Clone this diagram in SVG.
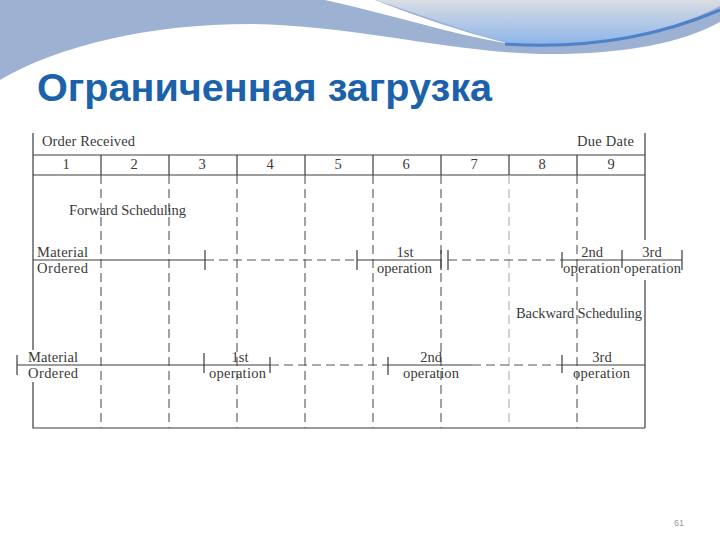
<svg xmlns="http://www.w3.org/2000/svg" width="720" height="540" viewBox="0 0 720 540">
<defs>
<linearGradient id="sky" x1="0" y1="0" x2="0" y2="1">
<stop offset="0" stop-color="#d9dde3"/>
<stop offset="1" stop-color="#8db5ea"/>
</linearGradient>
<style>
.t{font-family:"Liberation Serif","Times New Roman",serif;font-size:14.5px;fill:#3a3a3a}
.c{text-anchor:middle}
.s{stroke:#3c3c3c;stroke-width:1.2;fill:none}
.d{stroke:#555555;stroke-width:1.1;fill:none;stroke-dasharray:9 5}
.dl{stroke:#a5a5a5;stroke-width:1;fill:none;stroke-dasharray:9 5}
</style>
</defs>
<rect width="720" height="540" fill="#ffffff"/>
<g id="header">
<path d="M0,0 H720 V22 C680,44 620,55 540,54 C450,52 350,25 250,24 C150,24 60,45 0,80 Z" fill="#9db2d2"/>
<path d="M325,0 C390,14 450,34 510,44 C455,30 405,12 375,0 Z" fill="#ffffff"/>
<path d="M375,0 C420,14 470,34 515,44 C600,48 670,32 720,6 V0 Z" fill="url(#sky)"/>
<path d="M505,44 C600,50 668,32 720,10" stroke="#4f82c8" stroke-width="3" fill="none"/>
</g>
<text id="title" x="37" y="101" textLength="455" lengthAdjust="spacingAndGlyphs" style="font-family:'Liberation Sans','Noto Sans',Arial,sans-serif;font-weight:bold;font-size:38px;fill:#1b62aa">Ограниченная загрузка</text>
<g id="grid">
<path class="s" d="M33,133 V350 M33,382 V428 H645 M645,133 V240 M645,280 V428 M33,155 H645 M33,175 H645"/>
<path class="s" d="M101,155 V175 M169,155 V175 M237,155 V175 M305,155 V175 M373,155 V175 M441,155 V175 M509,155 V175 M577,155 V175"/>
<path class="d" d="M101,175 V428 M169,175 V428 M237,175 V428 M305,175 V428 M373,175 V428 M441,175 V428 M577,175 V428"/>
<path class="dl" d="M509,175 V428"/>
</g>
<g id="header-labels">
<text class="t" x="42" y="146" textLength="93">Order Received</text>
<text class="t" x="577" y="146" textLength="57">Due Date</text>
<text class="t c" x="66" y="169">1</text>
<text class="t c" x="134" y="169">2</text>
<text class="t c" x="202" y="169">3</text>
<text class="t c" x="270" y="169">4</text>
<text class="t c" x="338" y="169">5</text>
<text class="t c" x="406" y="169">6</text>
<text class="t c" x="474" y="169">7</text>
<text class="t c" x="542" y="169">8</text>
<text class="t c" x="611" y="169">9</text>
</g>
<g id="forward">
<text class="t" x="69" y="215" textLength="117">Forward Scheduling</text>
<text class="t" x="37" y="257" textLength="51">Material</text>
<text class="t" x="37" y="273" textLength="51">Ordered</text>
<text class="t c" x="405" y="257">1st</text>
<text class="t" x="377" y="273" textLength="55">operation</text>
<text class="t c" x="592" y="257">2nd</text>
<text class="t" x="563" y="273" textLength="57">operation</text>
<text class="t c" x="652" y="257">3rd</text>
<text class="t" x="624" y="273" textLength="57">operation</text>
</g>
<g id="backward">
<text class="t" x="516" y="318" textLength="126">Backward Scheduling</text>
<text class="t" x="28" y="362" textLength="50">Material</text>
<text class="t" x="28" y="378" textLength="50">Ordered</text>
<text class="t c" x="240" y="362">1st</text>
<text class="t" x="209" y="378" textLength="57">operation</text>
<text class="t c" x="431" y="362">2nd</text>
<text class="t" x="403" y="378" textLength="56">operation</text>
<text class="t c" x="602" y="362">3rd</text>
<text class="t" x="573" y="378" textLength="57">operation</text>
</g>
<g id="connectors">
<path class="s" d="M33,260 H205 M205,250 V270"/>
<path class="d" d="M205,260 H357"/>
<path class="s" d="M357,250 V270 M357,260 H441 M441,250 V270 M448,250 V270"/>
<path class="d" d="M448,260 H562"/>
<path class="s" d="M562,252 V268 M562,260 H682 M622,250 V268 M682,250 V270"/>
<path class="s" d="M17,355 V375 M17,365 H270 M204,353 V373 M270,357 V373"/>
<path class="d" d="M270,365 H388"/>
<path class="s" d="M388,357 V375 M388,365 H472"/>
<path class="d" d="M472,365 H562"/>
<path class="s" d="M562,355 V373 M562,365 H645"/>
</g>
<text x="679" y="526" text-anchor="middle" style="font-family:'Liberation Sans',sans-serif;font-size:9px;fill:#9a9a9a">61</text>
</svg>
